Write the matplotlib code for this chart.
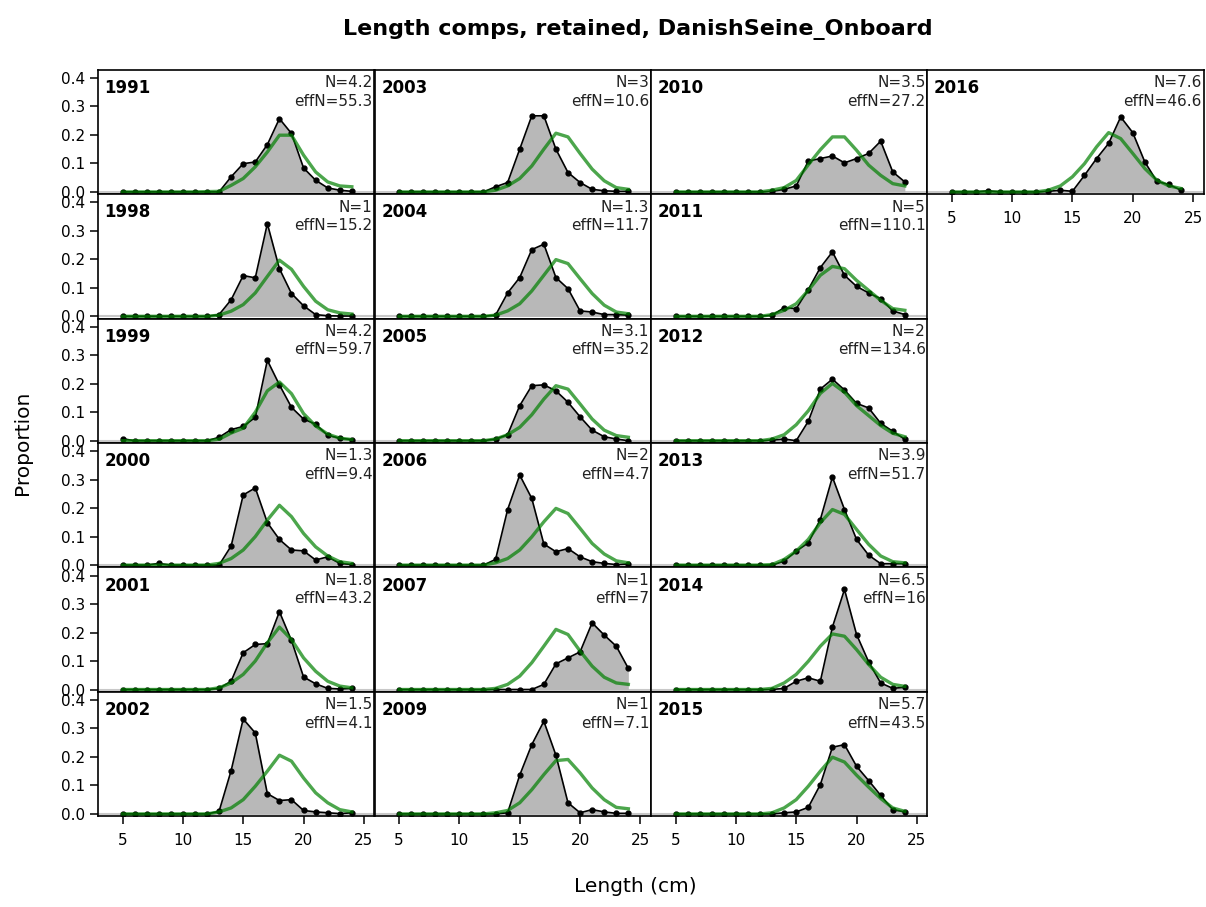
import matplotlib.pyplot as plt

# length bins (cm)
lengths = [5, 6, 7, 8, 9, 10, 11, 12, 13, 14, 15, 16, 17, 18, 19, 20, 21, 22, 23, 24]

years = [1991, 1998, 1999, 2000, 2001, 2002,
         2003, 2004, 2005, 2006, 2007, 2009,
         2010, 2011, 2012, 2013, 2014, 2015,
         2016]
n_samp = ['4.2', '1', '4.2', '1.3', '1.8', '1.5',
          '3', '1.3', '3.1', '2', '1', '1',
          '3.5', '5', '2', '3.9', '6.5', '5.7',
          '7.6']
eff_n = ['55.3', '15.2', '59.7', '9.4', '43.2', '4.1',
         '10.6', '11.7', '35.2', '4.7', '7', '7.1',
         '27.2', '110.1', '134.6', '51.7', '16', '43.5',
         '46.6']

# observed proportions
obs_1991 = [0, 0, 0, 0, 0, 0, 0, 0, 0.0, 0.053, 0.099, 0.105, 0.166, 0.257, 0.205, 0.084, 0.041, 0.014, 0.006, 0.002]
obs_1998 = [0, 0, 0, 0, 0, 0, 0, 0, 0.006, 0.058, 0.143, 0.135, 0.325, 0.167, 0.080, 0.037, 0.006, 0.002, 0.001, 0.001]
obs_1999 = [0.007, 0, 0, 0, 0, 0, 0, 0, 0.012, 0.039, 0.050, 0.082, 0.282, 0.196, 0.117, 0.076, 0.058, 0.019, 0.009, 0.004]
obs_2000 = [0, 0, 0, 0.006, 0, 0, 0, 0, 0.0, 0.067, 0.246, 0.271, 0.149, 0.090, 0.053, 0.050, 0.018, 0.029, 0.006, 0.002]
obs_2001 = [0, 0, 0, 0, 0, 0, 0, 0, 0.004, 0.029, 0.129, 0.158, 0.161, 0.273, 0.172, 0.044, 0.020, 0.004, 0.002, 0.004]
obs_2002 = [0, 0, 0, 0, 0, 0, 0, 0, 0.009, 0.152, 0.333, 0.284, 0.071, 0.047, 0.050, 0.012, 0.007, 0.004, 0.001, 0.004]
obs_2003 = [0, 0, 0, 0, 0, 0, 0, 0, 0.018, 0.033, 0.150, 0.267, 0.267, 0.150, 0.068, 0.033, 0.009, 0.004, 0.002, 0.002]
obs_2004 = [0, 0, 0, 0, 0, 0, 0, 0, 0.004, 0.082, 0.136, 0.234, 0.253, 0.136, 0.097, 0.019, 0.015, 0.006, 0.006, 0.004]
obs_2005 = [0, 0, 0, 0, 0, 0, 0, 0, 0.006, 0.021, 0.123, 0.193, 0.196, 0.175, 0.135, 0.084, 0.037, 0.014, 0.006, 0.0]
obs_2006 = [0, 0, 0, 0, 0, 0, 0, 0, 0.020, 0.195, 0.316, 0.234, 0.074, 0.047, 0.058, 0.029, 0.012, 0.006, 0.002, 0.004]
obs_2007 = [0, 0, 0, 0, 0, 0, 0, 0, 0, 0, 0, 0, 0.018, 0.090, 0.111, 0.132, 0.234, 0.191, 0.152, 0.074]
obs_2009 = [0, 0, 0, 0, 0, 0, 0, 0, 0, 0.004, 0.136, 0.243, 0.325, 0.206, 0.039, 0.004, 0.015, 0.007, 0.002, 0.002]
obs_2010 = [0, 0, 0, 0, 0, 0, 0, 0, 0.002, 0.009, 0.021, 0.108, 0.117, 0.126, 0.102, 0.117, 0.135, 0.178, 0.070, 0.035]
obs_2011 = [0, 0, 0, 0, 0, 0, 0, 0, 0.004, 0.030, 0.027, 0.094, 0.171, 0.226, 0.144, 0.105, 0.082, 0.062, 0.019, 0.006]
obs_2012 = [0, 0, 0, 0, 0, 0, 0, 0, 0.002, 0.006, 0.0, 0.068, 0.181, 0.216, 0.178, 0.131, 0.115, 0.061, 0.033, 0.005]
obs_2013 = [0, 0, 0, 0, 0, 0, 0, 0, 0, 0.014, 0.049, 0.078, 0.160, 0.309, 0.195, 0.090, 0.035, 0.005, 0.005, 0.005]
obs_2014 = [0, 0, 0, 0, 0, 0, 0, 0, 0, 0.004, 0.029, 0.041, 0.029, 0.219, 0.351, 0.193, 0.097, 0.023, 0.004, 0.008]
obs_2015 = [0, 0, 0, 0, 0, 0, 0, 0, 0, 0.004, 0.007, 0.023, 0.103, 0.234, 0.243, 0.167, 0.117, 0.065, 0.015, 0.007]
obs_2016 = [0, 0, 0, 0.004, 0, 0, 0, 0, 0.002, 0.006, 0.002, 0.058, 0.117, 0.170, 0.263, 0.208, 0.105, 0.037, 0.026, 0.006]

# expected proportions
exp_1991 = [0, 0, 0, 0, 0, 0, 0, 0.001, 0.002, 0.023, 0.047, 0.088, 0.140, 0.199, 0.199, 0.129, 0.070, 0.035, 0.021, 0.018]
exp_1998 = [0, 0, 0, 0, 0, 0, 0, 0, 0.004, 0.018, 0.041, 0.082, 0.140, 0.197, 0.165, 0.105, 0.053, 0.023, 0.012, 0.008]
exp_1999 = [0, 0, 0, 0, 0, 0, 0, 0, 0.005, 0.027, 0.044, 0.100, 0.175, 0.206, 0.165, 0.095, 0.052, 0.023, 0.009, 0.004]
exp_2000 = [0, 0, 0, 0, 0, 0, 0, 0, 0.006, 0.023, 0.053, 0.100, 0.158, 0.210, 0.170, 0.111, 0.064, 0.032, 0.012, 0.006]
exp_2001 = [0, 0, 0, 0, 0, 0, 0, 0, 0.006, 0.023, 0.053, 0.100, 0.164, 0.219, 0.175, 0.111, 0.064, 0.029, 0.012, 0.006]
exp_2002 = [0, 0, 0, 0, 0, 0, 0, 0, 0.007, 0.021, 0.050, 0.097, 0.150, 0.206, 0.185, 0.126, 0.074, 0.039, 0.015, 0.007]
exp_2003 = [0, 0, 0, 0, 0, 0, 0, 0, 0.006, 0.021, 0.047, 0.091, 0.150, 0.206, 0.193, 0.135, 0.080, 0.039, 0.015, 0.009]
exp_2004 = [0, 0, 0, 0, 0, 0, 0, 0, 0.004, 0.019, 0.044, 0.089, 0.144, 0.199, 0.185, 0.132, 0.080, 0.039, 0.015, 0.009]
exp_2005 = [0, 0, 0, 0, 0, 0, 0, 0, 0.006, 0.021, 0.047, 0.091, 0.146, 0.193, 0.181, 0.129, 0.076, 0.037, 0.018, 0.012]
exp_2006 = [0, 0, 0, 0, 0, 0, 0, 0, 0.008, 0.023, 0.053, 0.099, 0.152, 0.199, 0.181, 0.129, 0.076, 0.039, 0.015, 0.008]
exp_2007 = [0, 0, 0, 0, 0, 0, 0, 0, 0.004, 0.018, 0.047, 0.094, 0.152, 0.211, 0.193, 0.135, 0.082, 0.043, 0.023, 0.018]
exp_2009 = [0, 0, 0, 0, 0, 0, 0, 0, 0.004, 0.012, 0.039, 0.085, 0.138, 0.187, 0.191, 0.144, 0.091, 0.050, 0.023, 0.018]
exp_2010 = [0, 0, 0, 0, 0, 0, 0, 0, 0.006, 0.015, 0.040, 0.095, 0.148, 0.193, 0.193, 0.146, 0.094, 0.058, 0.029, 0.021]
exp_2011 = [0, 0, 0, 0, 0, 0, 0, 0, 0.006, 0.021, 0.044, 0.091, 0.144, 0.175, 0.167, 0.126, 0.091, 0.056, 0.027, 0.021]
exp_2012 = [0, 0, 0, 0, 0, 0, 0, 0, 0.006, 0.021, 0.056, 0.105, 0.166, 0.201, 0.170, 0.123, 0.088, 0.053, 0.026, 0.014]
exp_2013 = [0, 0, 0, 0, 0, 0, 0, 0, 0.002, 0.020, 0.049, 0.090, 0.149, 0.195, 0.178, 0.125, 0.073, 0.032, 0.012, 0.008]
exp_2014 = [0, 0, 0, 0, 0, 0, 0, 0, 0.004, 0.023, 0.053, 0.099, 0.152, 0.195, 0.187, 0.140, 0.088, 0.043, 0.018, 0.011]
exp_2015 = [0, 0, 0, 0, 0, 0, 0, 0, 0.004, 0.021, 0.050, 0.097, 0.150, 0.199, 0.182, 0.136, 0.094, 0.054, 0.021, 0.009]
exp_2016 = [0, 0, 0, 0, 0, 0, 0, 0, 0.006, 0.021, 0.053, 0.099, 0.158, 0.208, 0.187, 0.135, 0.082, 0.041, 0.021, 0.012]

observed = [obs_1991, obs_1998, obs_1999, obs_2000, obs_2001, obs_2002,
            obs_2003, obs_2004, obs_2005, obs_2006, obs_2007, obs_2009,
            obs_2010, obs_2011, obs_2012, obs_2013, obs_2014, obs_2015,
            obs_2016]
expected = [exp_1991, exp_1998, exp_1999, exp_2000, exp_2001, exp_2002,
            exp_2003, exp_2004, exp_2005, exp_2006, exp_2007, exp_2009,
            exp_2010, exp_2011, exp_2012, exp_2013, exp_2014, exp_2015,
            exp_2016]

plt.rcParams['font.family'] = ['DejaVu Sans']

W, H = 1206, 907
fig = plt.figure(figsize=(W / 100, H / 100), dpi=100)

# panel grid in pixels (6 rows x 4 columns, filled column by column)
col_left = [98, 374.5, 651, 927.2]
panel_w = 276.3
top0 = 69.7
panel_h = 124.4
nrow = 6

fill_col = '#b8b8b8'
exp_col = (0, 0.5, 0, 0.7)

for i, yr in enumerate(years):
    col = i // nrow
    row = i % nrow
    left = col_left[col]
    top = top0 + row * panel_h
    ax = fig.add_axes([left / W, 1 - (top + panel_h) / H, panel_w / W, panel_h / H])
    ax.set_xlim(2.97, 25.86)
    ax.set_ylim(-0.0077, 0.4288)

    ax.axhline(0, color='#c8c8c8', lw=1.5, zorder=1)
    ax.fill_between(lengths, 0, observed[i], color=fill_col, lw=0, zorder=2)
    ax.plot(lengths, observed[i], '-o', color='black', lw=1.2, ms=3.5, zorder=3)
    ax.plot(lengths, expected[i], color=exp_col, lw=2.4, zorder=4)

    ax.text(0.024, 0.813, str(yr), transform=ax.transAxes, fontsize=12,
            fontweight='bold', ha='left', va='baseline')
    ax.text(0.994, 0.859, 'N=' + n_samp[i], transform=ax.transAxes,
            fontsize=11, color='#222222', ha='right', va='baseline')
    ax.text(0.994, 0.711, 'effN=' + eff_n[i], transform=ax.transAxes,
            fontsize=11, color='#222222', ha='right', va='baseline')

    for sp in ax.spines.values():
        sp.set_linewidth(1.2)

    # y axis only on the first column
    if col == 0:
        ax.set_yticks([0, 0.1, 0.2, 0.3, 0.4])
        ax.set_yticklabels(['0.0', '0.1', '0.2', '0.3', '0.4'])
        ax.tick_params(axis='y', length=6, width=1.1, pad=3, labelsize=11)
    else:
        ax.set_yticks([])

    # x axis on the bottom panel of each column
    last_in_col = (row == nrow - 1) or (i == len(years) - 1)
    if last_in_col:
        ax.set_xticks([5, 10, 15, 20, 25])
        ax.tick_params(axis='x', length=6, width=1.1, pad=6, labelsize=11)
    else:
        ax.set_xticks([])

fig.text(638 / W, 1 - 30 / H, 'Length comps, retained, DanishSeine_Onboard',
         fontsize=16, fontweight='bold', ha='center', va='center')
fig.text(22 / W, 1 - 443 / H, 'Proportion', fontsize=14.5, rotation=90,
         ha='center', va='center')
fig.text(635 / W, 1 - 886 / H, 'Length (cm)', fontsize=14.5,
         ha='center', va='center')

fig.savefig('out.png', dpi=100)
